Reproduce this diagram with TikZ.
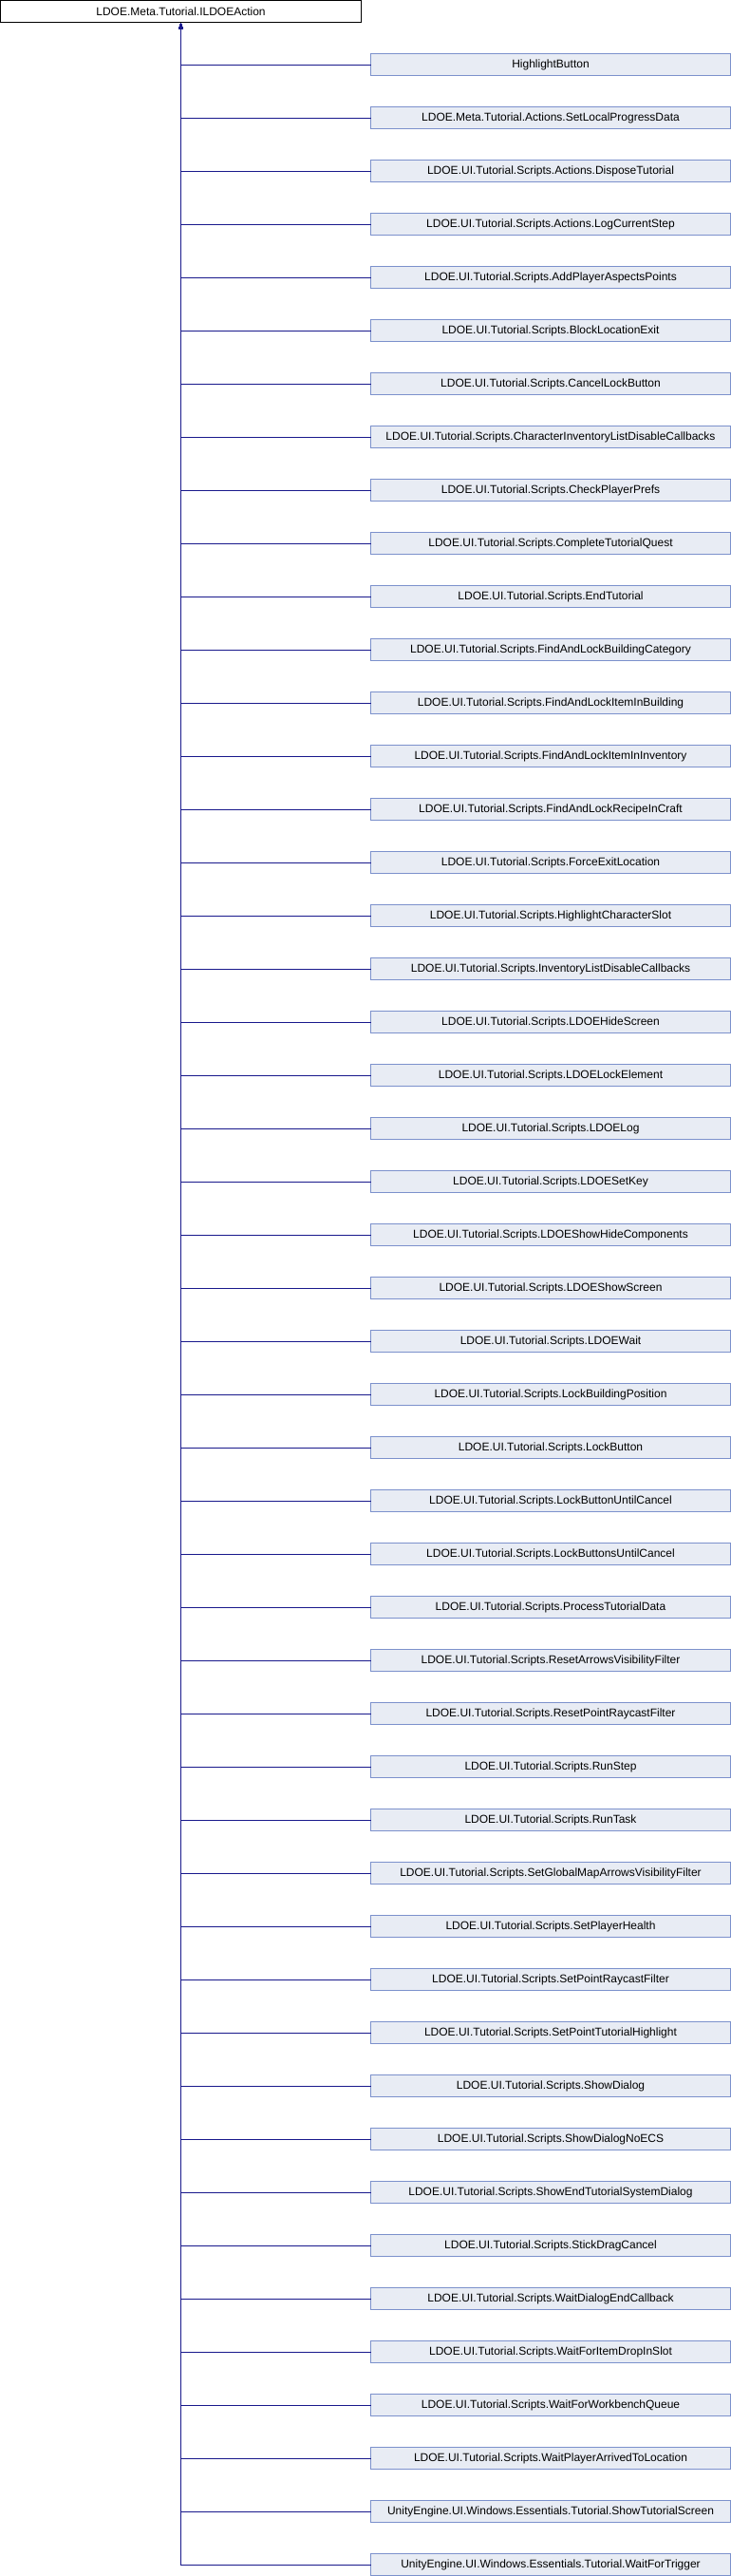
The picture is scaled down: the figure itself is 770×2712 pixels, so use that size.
\documentclass[tikz,border=0pt]{standalone}
\usepackage{fontspec}
\setmainfont{Liberation Sans}
\usetikzlibrary{arrows.meta, positioning}

\definecolor{boxfill}{RGB}{232,236,244}
\definecolor{boxline}{RGB}{124,145,204}
\definecolor{linkblue}{RGB}{25,25,140}

\tikzset{
	base/.style={draw=black, fill=white, line width=1pt, minimum width=380pt, minimum height=23pt, inner sep=0pt, outer sep=0pt, font=\fontsize{12}{14}\selectfont},
	derived/.style={draw=boxline, fill=boxfill, line width=1pt, minimum width=379pt, minimum height=23pt, inner sep=0pt, outer sep=0pt, font=\fontsize{12}{14}\selectfont},
	inherit/.style={draw=linkblue, line width=1pt, -{Latex[length=7pt, width=5pt]}}
}

\begin{document}
\begin{tikzpicture}[x=1pt, y=-1pt, node distance=33pt]
	\useasboundingbox (0,0) rectangle (770,2712);

	\node (iface) [base, anchor=north west] at (0.5,0.5) {LDOE.Meta.Tutorial.ILDOEAction};

	\node (t1) [derived, below right = 33pt and 10pt of iface.south east, anchor=north west] {HighlightButton};
	\node (t2) [derived, below = of t1] {LDOE.Meta.Tutorial.Actions.SetLocalProgressData};
	\node (t3) [derived, below = of t2] {LDOE.UI.Tutorial.Scripts.Actions.DisposeTutorial};
	\node (t4) [derived, below = of t3] {LDOE.UI.Tutorial.Scripts.Actions.LogCurrentStep};
	\node (t5) [derived, below = of t4] {LDOE.UI.Tutorial.Scripts.AddPlayerAspectsPoints};
	\node (t6) [derived, below = of t5] {LDOE.UI.Tutorial.Scripts.BlockLocationExit};
	\node (t7) [derived, below = of t6] {LDOE.UI.Tutorial.Scripts.CancelLockButton};
	\node (t8) [derived, below = of t7] {LDOE.UI.Tutorial.Scripts.CharacterInventoryListDisableCallbacks};
	\node (t9) [derived, below = of t8] {LDOE.UI.Tutorial.Scripts.CheckPlayerPrefs};
	\node (t10) [derived, below = of t9] {LDOE.UI.Tutorial.Scripts.CompleteTutorialQuest};
	\node (t11) [derived, below = of t10] {LDOE.UI.Tutorial.Scripts.EndTutorial};
	\node (t12) [derived, below = of t11] {LDOE.UI.Tutorial.Scripts.FindAndLockBuildingCategory};
	\node (t13) [derived, below = of t12] {LDOE.UI.Tutorial.Scripts.FindAndLockItemInBuilding};
	\node (t14) [derived, below = of t13] {LDOE.UI.Tutorial.Scripts.FindAndLockItemInInventory};
	\node (t15) [derived, below = of t14] {LDOE.UI.Tutorial.Scripts.FindAndLockRecipeInCraft};
	\node (t16) [derived, below = of t15] {LDOE.UI.Tutorial.Scripts.ForceExitLocation};
	\node (t17) [derived, below = of t16] {LDOE.UI.Tutorial.Scripts.HighlightCharacterSlot};
	\node (t18) [derived, below = of t17] {LDOE.UI.Tutorial.Scripts.InventoryListDisableCallbacks};
	\node (t19) [derived, below = of t18] {LDOE.UI.Tutorial.Scripts.LDOEHideScreen};
	\node (t20) [derived, below = of t19] {LDOE.UI.Tutorial.Scripts.LDOELockElement};
	\node (t21) [derived, below = of t20] {LDOE.UI.Tutorial.Scripts.LDOELog};
	\node (t22) [derived, below = of t21] {LDOE.UI.Tutorial.Scripts.LDOESetKey};
	\node (t23) [derived, below = of t22] {LDOE.UI.Tutorial.Scripts.LDOEShowHideComponents};
	\node (t24) [derived, below = of t23] {LDOE.UI.Tutorial.Scripts.LDOEShowScreen};
	\node (t25) [derived, below = of t24] {LDOE.UI.Tutorial.Scripts.LDOEWait};
	\node (t26) [derived, below = of t25] {LDOE.UI.Tutorial.Scripts.LockBuildingPosition};
	\node (t27) [derived, below = of t26] {LDOE.UI.Tutorial.Scripts.LockButton};
	\node (t28) [derived, below = of t27] {LDOE.UI.Tutorial.Scripts.LockButtonUntilCancel};
	\node (t29) [derived, below = of t28] {LDOE.UI.Tutorial.Scripts.LockButtonsUntilCancel};
	\node (t30) [derived, below = of t29] {LDOE.UI.Tutorial.Scripts.ProcessTutorialData};
	\node (t31) [derived, below = of t30] {LDOE.UI.Tutorial.Scripts.ResetArrowsVisibilityFilter};
	\node (t32) [derived, below = of t31] {LDOE.UI.Tutorial.Scripts.ResetPointRaycastFilter};
	\node (t33) [derived, below = of t32] {LDOE.UI.Tutorial.Scripts.RunStep};
	\node (t34) [derived, below = of t33] {LDOE.UI.Tutorial.Scripts.RunTask};
	\node (t35) [derived, below = of t34] {LDOE.UI.Tutorial.Scripts.SetGlobalMapArrowsVisibilityFilter};
	\node (t36) [derived, below = of t35] {LDOE.UI.Tutorial.Scripts.SetPlayerHealth};
	\node (t37) [derived, below = of t36] {LDOE.UI.Tutorial.Scripts.SetPointRaycastFilter};
	\node (t38) [derived, below = of t37] {LDOE.UI.Tutorial.Scripts.SetPointTutorialHighlight};
	\node (t39) [derived, below = of t38] {LDOE.UI.Tutorial.Scripts.ShowDialog};
	\node (t40) [derived, below = of t39] {LDOE.UI.Tutorial.Scripts.ShowDialogNoECS};
	\node (t41) [derived, below = of t40] {LDOE.UI.Tutorial.Scripts.ShowEndTutorialSystemDialog};
	\node (t42) [derived, below = of t41] {LDOE.UI.Tutorial.Scripts.StickDragCancel};
	\node (t43) [derived, below = of t42] {LDOE.UI.Tutorial.Scripts.WaitDialogEndCallback};
	\node (t44) [derived, below = of t43] {LDOE.UI.Tutorial.Scripts.WaitForItemDropInSlot};
	\node (t45) [derived, below = of t44] {LDOE.UI.Tutorial.Scripts.WaitForWorkbenchQueue};
	\node (t46) [derived, below = of t45] {LDOE.UI.Tutorial.Scripts.WaitPlayerArrivedToLocation};
	\node (t47) [derived, below = of t46] {UnityEngine.UI.Windows.Essentials.Tutorial.ShowTutorialScreen};
	\node (t48) [derived, below = of t47] {UnityEngine.UI.Windows.Essentials.Tutorial.WaitForTrigger};

	\foreach \i in {1,...,48}
		\draw [inherit] (t\i.west) -| (iface.south);

\end{tikzpicture}
\end{document}
